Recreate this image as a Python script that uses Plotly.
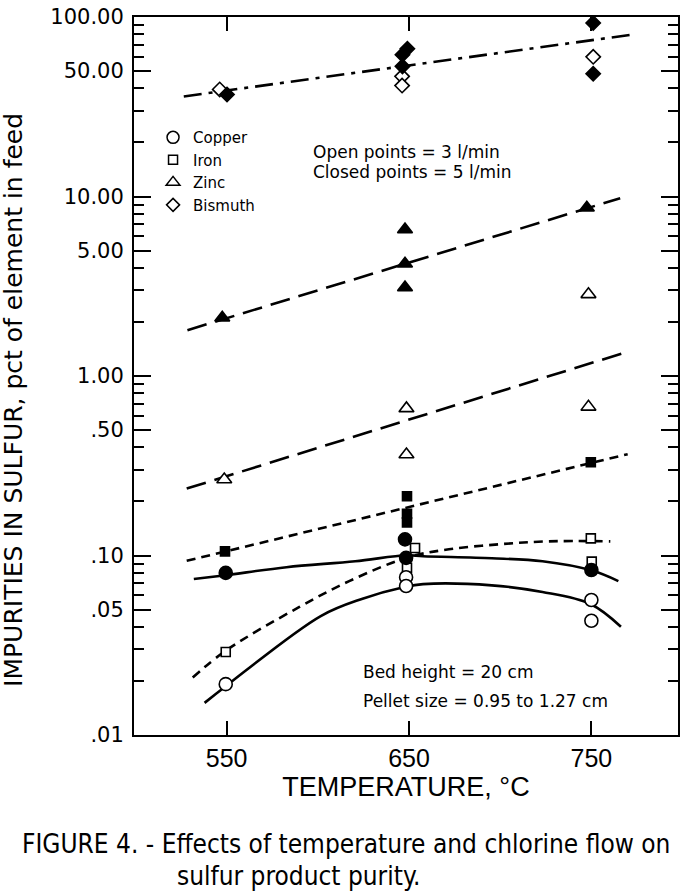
import plotly.graph_objects as go

# ---------------- data ----------------
# Bismuth
bi_open_T = [546.2, 646.2, 646.2, 751.0]
bi_open_v = [39.5, 46.7, 41.5, 60.0]
bi_closed_T = [550.2, 649.1, 646.4, 646.4, 751.0, 751.0]
bi_closed_v = [37.0, 66.5, 61.6, 53.1, 92.6, 48.3]
bi_fit_T = [526.5, 771.3]
bi_fit_v = [36.1, 79.5]

# Zinc
zn_open_T = [548.7, 648.6, 648.6, 748.4, 748.4]
zn_open_v = [0.265, 0.66, 0.365, 2.85, 0.673]
zn_closed_T = [547.6, 647.8, 647.8, 647.8, 747.5]
zn_closed_v = [2.11, 6.55, 4.22, 3.11, 8.66]
zn_closed_fit_T = [528.5, 765.8]
zn_closed_fit_v = [1.80, 9.79]
zn_open_fit_T = [528.1, 768.4]
zn_open_fit_v = [0.236, 1.35]

# Iron
fe_open_T = [549.5, 653.3, 648.9, 749.7, 750.2]
fe_open_v = [0.029, 0.11, 0.0855, 0.1245, 0.0925]
fe_closed_T = [549.1, 648.9, 648.9, 648.9, 749.7]
fe_closed_v = [0.1055, 0.214, 0.171, 0.153, 0.331]
fe_closed_fit_T = [528.1, 769.9]
fe_closed_fit_v = [0.0934, 0.367]
fe_open_curve_T = [531.4, 549.5, 589.9, 617.2, 649.5, 671.9, 699.2, 726.5, 760.4]
fe_open_curve_v = [0.0209, 0.0295, 0.0517, 0.0720, 0.0978, 0.1083, 0.1154, 0.1199, 0.1199]

# Copper
cu_open_T = [549.5, 648.4, 648.4, 750.0, 750.0]
cu_open_v = [0.0192, 0.0757, 0.0676, 0.0565, 0.0433]
cu_closed_T = [549.5, 647.8, 648.4, 750.0]
cu_closed_v = [0.080, 0.123, 0.097, 0.083]
cu_closed_curve_T = [532.0, 549.5, 582.8, 620.5, 648.4, 657.7, 695.4, 723.2, 749.5, 764.8]
cu_closed_curve_v = [0.0739, 0.0777, 0.0861, 0.0929, 0.1003, 0.0991, 0.0966, 0.0929, 0.0829, 0.0720]
cu_open_curve_T = [537.9, 549.5, 601.6, 624.1, 647.5, 657.7, 695.4, 723.2, 749.5, 766.2]
cu_open_curve_v = [0.0151, 0.0187, 0.0460, 0.0573, 0.0668, 0.0693, 0.0682, 0.0626, 0.0537, 0.0401]

# axis ticks
x_ticks = [550, 650, 750]
y_ticks = [0.01, 0.05, 0.1, 0.5, 1, 5, 10, 50, 100]
y_ticktext = [".01", ".05", ".10", ".50", "1.00", "5.00", "10.00", "50.00", "100.00"]
y_minor = [m * d for d in [0.01, 0.1, 1, 10] for m in [2, 3, 4, 6, 7, 8, 9]]

legend_names = ["Copper", "Iron", "Zinc", "Bismuth"]
legend_symbols = ["circle-open", "square-open", "triangle-up-open", "diamond-open"]

# ---------------- figure ----------------
fig = go.Figure()
K = "black"

# legend entries
for name, sym, sz in zip(legend_names, legend_symbols, [12, 9, 12, 10]):
    fig.add_trace(go.Scatter(x=[None], y=[None], mode="markers", name=name,
                             marker=dict(symbol=sym, size=sz, color=K, line=dict(width=1.5, color=K))))

def line(T, v, dash, shape="linear"):
    fig.add_trace(go.Scatter(x=T, y=v, mode="lines", showlegend=False, hoverinfo="skip",
                             line=dict(color=K, width=2.6, dash=dash, shape=shape)))

def pts(T, v, sym, size, filled):
    fig.add_trace(go.Scatter(x=T, y=v, mode="markers", showlegend=False,
                             marker=dict(symbol=sym, size=size, color=K if filled else "white",
                                         line=dict(width=1.6, color=K))))

line(bi_fit_T, bi_fit_v, "18px,7px,4px,7px")
line(zn_closed_fit_T, zn_closed_fit_v, "20px,9px")
line(zn_open_fit_T, zn_open_fit_v, "20px,9px")
line(fe_closed_fit_T, fe_closed_fit_v, "9px,6px")
line(fe_open_curve_T, fe_open_curve_v, "9px,6px", "spline")
line(cu_closed_curve_T, cu_closed_curve_v, "solid", "spline")
line(cu_open_curve_T, cu_open_curve_v, "solid", "spline")

pts(bi_open_T, bi_open_v, "diamond", 11, False)
pts(bi_closed_T, bi_closed_v, "diamond", 11, True)
pts(zn_open_T, zn_open_v, "triangle-up", 13, False)
pts(zn_closed_T, zn_closed_v, "triangle-up", 13, True)
pts(fe_open_T, fe_open_v, "square", 9, False)
pts(fe_closed_T, fe_closed_v, "square", 9, True)
pts(cu_open_T, cu_open_v, "circle", 13, False)
pts(cu_closed_T, cu_closed_v, "circle", 13, True)

txt = dict(family="DejaVu Sans", size=17, color=K)
cap = dict(family="Liberation Sans Narrow, DejaVu Sans Condensed, Liberation Sans", size=26, color=K)
ann = [
    dict(text="Open points = 3 l/min", x=0.326, y=0.8115, xanchor="left", yanchor="middle", font=txt),
    dict(text="Closed points = 5 l/min", x=0.326, y=0.784, xanchor="left", yanchor="middle", font=txt),
    dict(text="Bed height = 20 cm", x=0.4176, y=0.0871, xanchor="left", yanchor="middle", font=txt),
    dict(text="Pellet size = 0.95 to 1.27 cm", x=0.4176, y=0.047, xanchor="left", yanchor="middle", font=txt),
    dict(text="IMPURITIES IN SULFUR, pct of element in feed", x=-0.222, y=0.467, textangle=-90,
         xanchor="center", yanchor="middle", font=dict(family="DejaVu Sans", size=25, color=K)),
    dict(text="FIGURE 4. - Effects of temperature and chlorine flow on", x=-0.209, y=-0.152,
         xanchor="left", yanchor="middle", font=cap),
    dict(text="sulfur product purity.", x=0.0751, y=-0.196, xanchor="left", yanchor="middle", font=cap),
]
for a in ann:
    a.update(xref="paper", yref="paper", showarrow=False)

fig.update_layout(
    width=685, height=894,
    margin=dict(l=134, r=5, t=12, b=159),
    paper_bgcolor="white", plot_bgcolor="white",
    annotations=ann,
    legend=dict(x=0.035, y=0.855, xanchor="left", yanchor="top", bgcolor="rgba(0,0,0,0)",
                font=dict(family="DejaVu Sans", size=15, color=K), borderwidth=0,
                tracegroupgap=0),
    xaxis=dict(range=[499.2, 797.5], tickvals=x_ticks, ticks="inside", ticklen=14, tickwidth=1.5,
               tickcolor=K, showline=True, linewidth=2, linecolor=K, mirror="ticks",
               showgrid=False, zeroline=False,
               tickfont=dict(family="Liberation Sans", size=25, color=K),
               title=dict(text="TEMPERATURE, °C", font=dict(family="Liberation Sans", size=27, color=K),
                          standoff=6)),
    yaxis=dict(type="log", range=[-2, 2], tickvals=y_ticks, ticktext=y_ticktext, ticks="inside",
               ticklen=17, tickwidth=1.5, tickcolor=K, showline=True, linewidth=2, linecolor=K,
               mirror="ticks", showgrid=False, zeroline=False, ticklabelstandoff=4,
               tickfont=dict(family="DejaVu Sans", size=21, color=K),
               minor=dict(tickmode="array", tickvals=y_minor, ticks="inside", ticklen=10,
                          tickwidth=1.5, tickcolor=K, showgrid=False)),
)

fig.write_html("out.html")
